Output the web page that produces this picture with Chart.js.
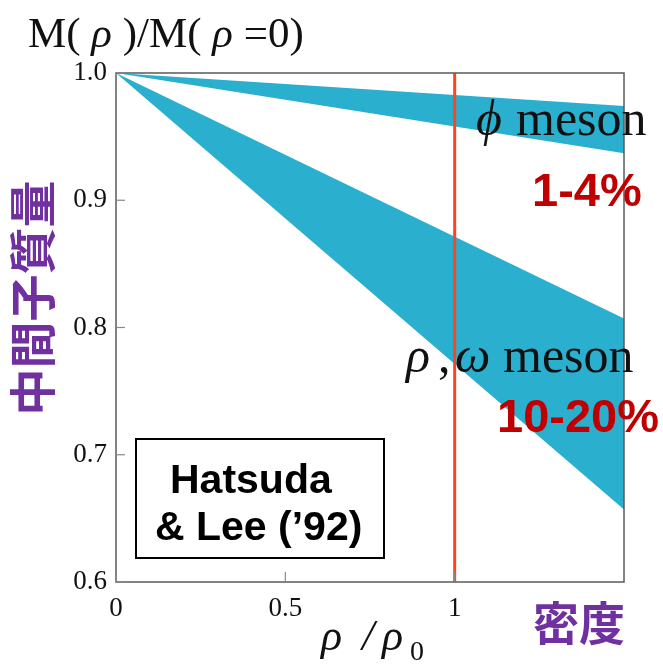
<!DOCTYPE html>
<html><head><meta charset="utf-8">
<script src="https://cdn.jsdelivr.net/npm/chart.js@4"></script>
<style>html,body{margin:0;padding:0;background:#fff;}#wrap{width:663px;height:664px;}</style>
</head><body><div id="wrap"><canvas id="c" width="663" height="664"></canvas></div>
<script>
// ---- data ----
const densityRange = [0, 1.5];          // rho/rho0 at start and end of each band
const phiUpper = [1.0, 0.974];          // phi meson band, upper edge
const phiLower = [1.0, 0.937];          // phi meson band, lower edge
const rhoUpper = [1.0, 0.807];          // rho/omega band, upper edge
const rhoLower = [1.0, 0.657];          // rho/omega band, lower edge
const normalDensity = 1.0;              // red vertical line at rho = rho0
const yRange = [0.6, 1.0];
const xTickValues = [0, 0.5, 1];
const yTickValues = [0.6, 0.7, 0.8, 0.9, 1.0];

const BAND = 'rgb(43,175,207)';
const pts = (ys) => densityRange.map((x, i) => ({x: x, y: ys[i]}));

const frameAndTicks = {
  id: 'frameAndTicks',
  afterDatasetsDraw(chart) {
    const {ctx, chartArea: a, scales: {x, y}} = chart;
    ctx.save();
    ctx.strokeStyle = '#5a5a5a';
    ctx.lineWidth = 1.5;
    ctx.strokeRect(a.left, a.top, a.right - a.left, a.bottom - a.top);
    ctx.lineWidth = 1.2;
    ctx.strokeStyle = '#888';
    xTickValues.forEach(v => {
      const px = x.getPixelForValue(v);
      ctx.beginPath(); ctx.moveTo(px, a.bottom); ctx.lineTo(px, a.bottom - 10); ctx.stroke();
    });
    yTickValues.forEach(v => {
      const py = y.getPixelForValue(v);
      ctx.beginPath(); ctx.moveTo(a.left, py); ctx.lineTo(a.left + 9, py); ctx.stroke();
    });
    ctx.restore();
  }
};

function rich(ctx, x, y, parts) {
  let cx = x;
  parts.forEach(p => {
    ctx.font = p.f; ctx.fillStyle = p.c || '#111';
    if (p.x !== undefined) cx = p.x;
    ctx.fillText(p.t, cx, y + (p.dy || 0));
    cx += ctx.measureText(p.t).width;
  });
}

const annotations = {
  id: 'annotations',
  afterDraw(chart) {
    const ctx = chart.ctx;
    ctx.save();
    ctx.textBaseline = 'alphabetic';
    ctx.textAlign = 'left';
    const serif = '"Liberation Serif", "DejaVu Serif", serif';
    const sans = '"Liberation Sans", Arial, sans-serif';
    // title
    rich(ctx, 28, 47, [
      {t: 'M( ', f: '43px ' + serif},
      {t: 'ρ', f: 'italic 43px ' + serif},
      {t: ' )/M( ', f: '43px ' + serif},
      {t: 'ρ', f: 'italic 43px ' + serif},
      {t: ' =0)', f: '43px ' + serif}
    ]);
    // x axis title
    rich(ctx, 321, 650, [
      {t: 'ρ', f: 'italic 44px ' + serif},
      {t: '/', f: 'italic 44px ' + serif, x: 362},
      {t: 'ρ', f: 'italic 44px ' + serif, x: 382},
      {t: '0', f: '28px ' + serif, dy: 10, x: 410}
    ]);
    // band labels
    rich(ctx, 476, 135, [
      {t: 'ϕ', f: 'italic 50px ' + serif},
      {t: 'meson', f: '50px ' + serif, x: 516}
    ]);
    rich(ctx, 406, 372, [
      {t: 'ρ', f: 'italic 50px ' + serif},
      {t: ',', f: '50px ' + serif, x: 438},
      {t: 'ω', f: 'italic 50px ' + serif, x: 455},
      {t: 'meson', f: '50px ' + serif, x: 503}
    ]);
    // percentages
    ctx.fillStyle = '#C00000';
    ctx.font = 'bold 47px ' + sans;
    ctx.fillText('1-4%', 532, 206);
    ctx.fillText('10-20%', 497, 432);
    // purple Japanese labels
    ctx.fillStyle = '#7030A0';
    ctx.font = 'bold 46px "Noto Sans CJK JP", sans-serif';
    ctx.fillText('密度', 533, 640);
    ctx.save();
    ctx.translate(50, 298);
    ctx.rotate(-Math.PI / 2);
    ctx.textAlign = 'center';
    ctx.font = 'bold 47px "Noto Sans CJK JP", sans-serif';
    ctx.fillText('中間子質量', 0, 0);
    ctx.restore();
    // reference box
    ctx.fillStyle = '#fff';
    ctx.fillRect(136, 439, 248, 119);
    ctx.strokeStyle = '#000';
    ctx.lineWidth = 2;
    ctx.strokeRect(136, 439, 248, 119);
    ctx.fillStyle = '#000';
    ctx.font = 'bold 41px ' + sans;
    ctx.fillText('Hatsuda', 170, 493);
    ctx.fillText('& Lee (’92)', 155, 540);
    ctx.restore();
  }
};

new Chart(document.getElementById('c'), {
  type: 'line',
  data: {
    datasets: [
      { label: 'rho0', data: [{x: normalDensity, y: yRange[0]}, {x: normalDensity, y: yRange[1]}],
        borderColor: '#FF4520', borderWidth: 3, pointRadius: 0, fill: false },
      { label: 'phiU', data: pts(phiUpper), borderWidth: 0, borderColor: BAND, backgroundColor: BAND, pointRadius: 0, fill: '+1' },
      { label: 'phiL', data: pts(phiLower), borderWidth: 0, borderColor: BAND, pointRadius: 0, fill: false },
      { label: 'rhoU', data: pts(rhoUpper), borderWidth: 0, borderColor: BAND, backgroundColor: BAND, pointRadius: 0, fill: '+1' },
      { label: 'rhoL', data: pts(rhoLower), borderWidth: 0, borderColor: BAND, pointRadius: 0, fill: false }
    ]
  },
  options: {
    responsive: false,
    animation: false,
    events: [],
    layout: { padding: { top: 73, right: 39, left: 0, bottom: 0 } },
    plugins: { legend: { display: false }, tooltip: { enabled: false } },
    scales: {
      x: {
        type: 'linear', min: densityRange[0], max: densityRange[1],
        grid: { display: false, drawTicks: false },
        border: { display: false },
        afterBuildTicks: (s) => { s.ticks = xTickValues.map(v => ({value: v})); },
        afterFit: (s) => { s.height = 82; },
        ticks: { color: '#111', padding: 11, maxRotation: 0,
          font: { family: '"Liberation Serif", serif', size: 27 },
          callback: (v) => String(v) }
      },
      y: {
        type: 'linear', min: yRange[0], max: yRange[1],
        grid: { display: false, drawTicks: false },
        border: { display: false },
        afterBuildTicks: (s) => { s.ticks = yTickValues.map(v => ({value: v})); },
        afterFit: (s) => { s.width = 116; },
        ticks: { color: '#111', padding: 9,
          font: { family: '"Liberation Serif", serif', size: 27 },
          callback: (v) => Number(v).toFixed(1) }
      }
    }
  },
  plugins: [frameAndTicks, annotations]
});
</script>
</body></html>
